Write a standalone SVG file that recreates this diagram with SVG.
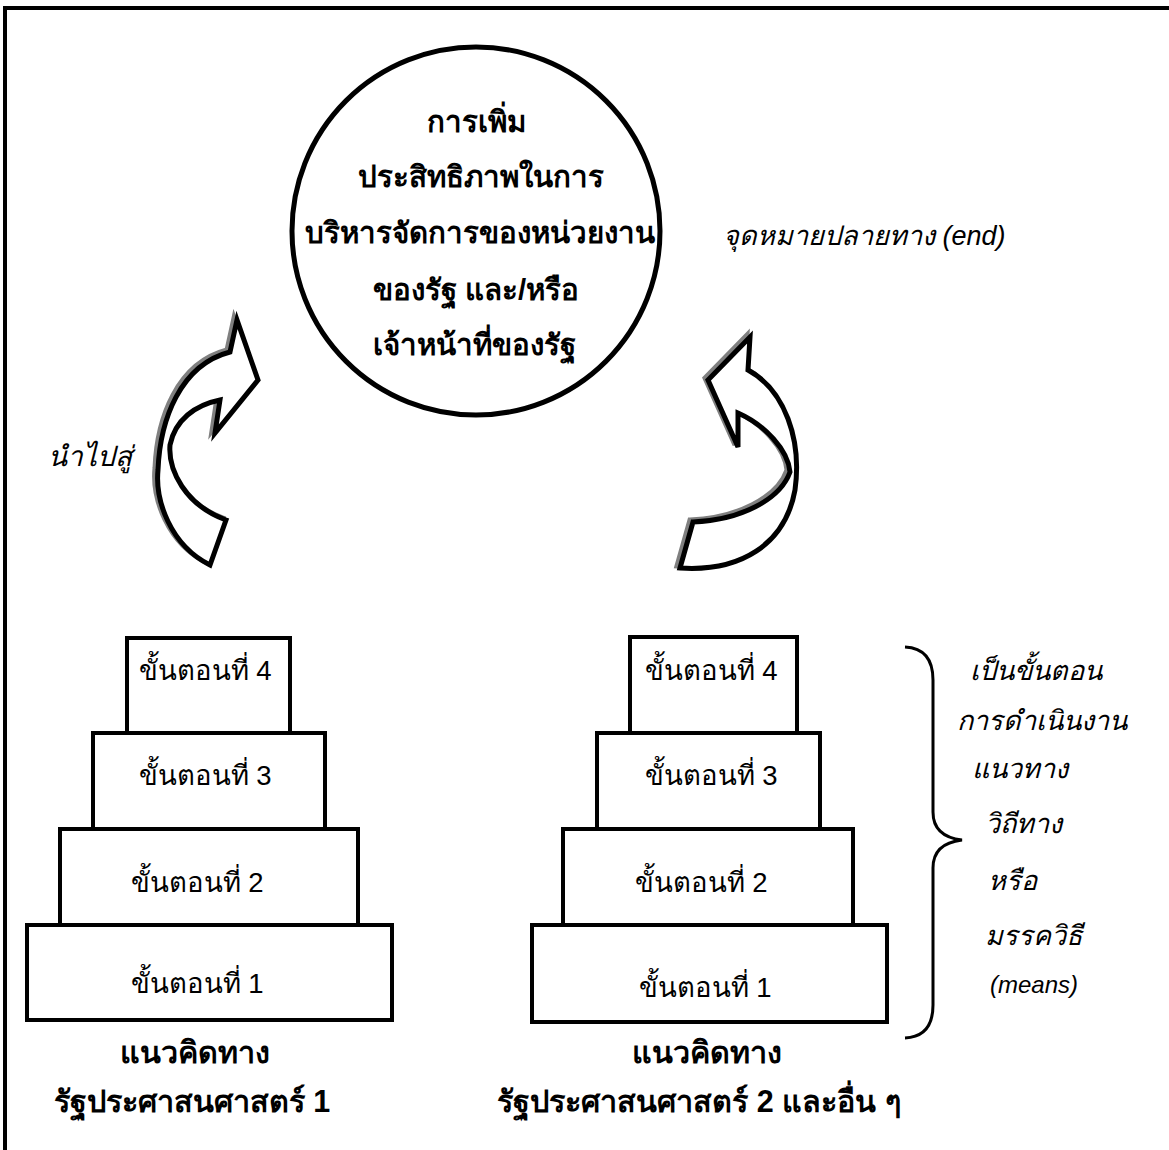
<svg xmlns="http://www.w3.org/2000/svg" width="1169" height="1150" viewBox="0 0 1169 1150">
<style>
text{font-family:'Liberation Sans','Noto Sans','DejaVu Sans',sans-serif;fill:#000}
.box{fill:#fff;stroke:#000;stroke-width:4}
.step{font-size:27.5px;text-anchor:middle}
.goal{font-size:29.5px;font-weight:bold;text-anchor:middle}
.it{font-size:27px;font-style:italic}
.lbl{font-size:30.5px;font-weight:bold;text-anchor:middle}
.arrow{fill:#fff;stroke:#000;stroke-width:5;stroke-linejoin:miter}
.shadow{fill:#fff;stroke:#808080;stroke-width:5}
</style>
<rect width="1169" height="1150" fill="#fff"/>
<g id="frame">
<path d="M5,1150 V8 H1169" fill="none" stroke="#000" stroke-width="4"/>
</g>
<g id="goal">
<circle cx="476" cy="231" r="184" fill="#fff" stroke="#000" stroke-width="5"/>
<text class="goal" x="476" y="132">การเพิ่ม</text>
<text class="goal" x="481" y="187">ประสิทธิภาพในการ</text>
<text class="goal" x="480" y="243">บริหารจัดการของหน่วยงาน</text>
<text class="goal" x="476" y="300">ของรัฐ และ/หรือ</text>
<text class="goal" x="474" y="355">เจ้าหน้าที่ของรัฐ</text>
</g>
<g id="end-label">
<text class="it" x="723" y="245">จุดหมายปลายทาง (end)</text>
</g>
<g id="lead-label">
<text class="it" x="48" y="466" style="font-size:28px">นำไปสู่</text>
</g>
<g id="connectors">
<g id="arrow-left">
<path class="shadow" transform="translate(-3,-2)" d="M230,352 L237,320 L258,380 L215,433 L220,400 C195,405 175,420 170,445 C168,470 185,505 226,520 L210,565 C170,545 155,500 158,470 C160,420 180,365 230,352 Z"/>
<path class="arrow" d="M230,352 L237,320 L258,380 L215,433 L220,400 C195,405 175,420 170,445 C168,470 185,505 226,520 L210,565 C170,545 155,500 158,470 C160,420 180,365 230,352 Z"/>
</g>
<g id="arrow-right">
<path class="shadow" transform="translate(-3,-2)" d="M748,370 L750,337 L708,380 L738,447 L738,413 C765,425 788,450 790,472 C780,500 740,520 693,522 L680,568 C740,572 785,545 795,490 C802,440 785,390 748,370 Z"/>
<path class="arrow" d="M748,370 L750,337 L708,380 L738,447 L738,413 C765,425 788,450 790,472 C780,500 740,520 693,522 L680,568 C740,572 785,545 795,490 C802,440 785,390 748,370 Z"/>
</g>
</g>
<g id="stack-left">
<rect class="box" x="27" y="925" width="365" height="95"/>
<rect class="box" x="60" y="829" width="298" height="96"/>
<rect class="box" x="93" y="733" width="232" height="96"/>
<rect class="box" x="127" y="638" width="163" height="95"/>
<text class="step" x="205" y="680">ขั้นตอนที่ 4</text>
<text class="step" x="205" y="785">ขั้นตอนที่ 3</text>
<text class="step" x="197" y="892">ขั้นตอนที่ 2</text>
<text class="step" x="197" y="993">ขั้นตอนที่ 1</text>
<text class="lbl" x="195" y="1063">แนวคิดทาง</text>
<text class="lbl" x="192" y="1112">รัฐประศาสนศาสตร์ 1</text>
</g>
<g id="stack-right">
<rect class="box" x="532" y="925" width="355" height="97"/>
<rect class="box" x="563" y="829" width="290" height="96"/>
<rect class="box" x="597" y="733" width="223" height="96"/>
<rect class="box" x="630" y="637" width="167" height="96"/>
<text class="step" x="711" y="680">ขั้นตอนที่ 4</text>
<text class="step" x="711" y="785">ขั้นตอนที่ 3</text>
<text class="step" x="701" y="892">ขั้นตอนที่ 2</text>
<text class="step" x="705" y="997">ขั้นตอนที่ 1</text>
<text class="lbl" x="707" y="1063">แนวคิดทาง</text>
<text class="lbl" x="699" y="1112">รัฐประศาสนศาสตร์ 2 และอื่น ๆ</text>
</g>
<g id="means">
<path d="M905,647 C925,648 933,660 933,680 L933,812 C933,830 945,838 962,840 C945,842 933,850 933,868 L933,1005 C933,1025 925,1037 905,1038" fill="none" stroke="#000" stroke-width="3"/>
<text class="it" x="970" y="680">เป็นขั้นตอน</text>
<text class="it" x="957" y="730">การดำเนินงาน</text>
<text class="it" x="972" y="778">แนวทาง</text>
<text class="it" x="985" y="833">วิถีทาง</text>
<text class="it" x="988" y="890">หรือ</text>
<text class="it" x="985" y="945">มรรควิธี</text>
<text class="it" x="990" y="993" style="font-size:24px">(means)</text>
</g>
</svg>
